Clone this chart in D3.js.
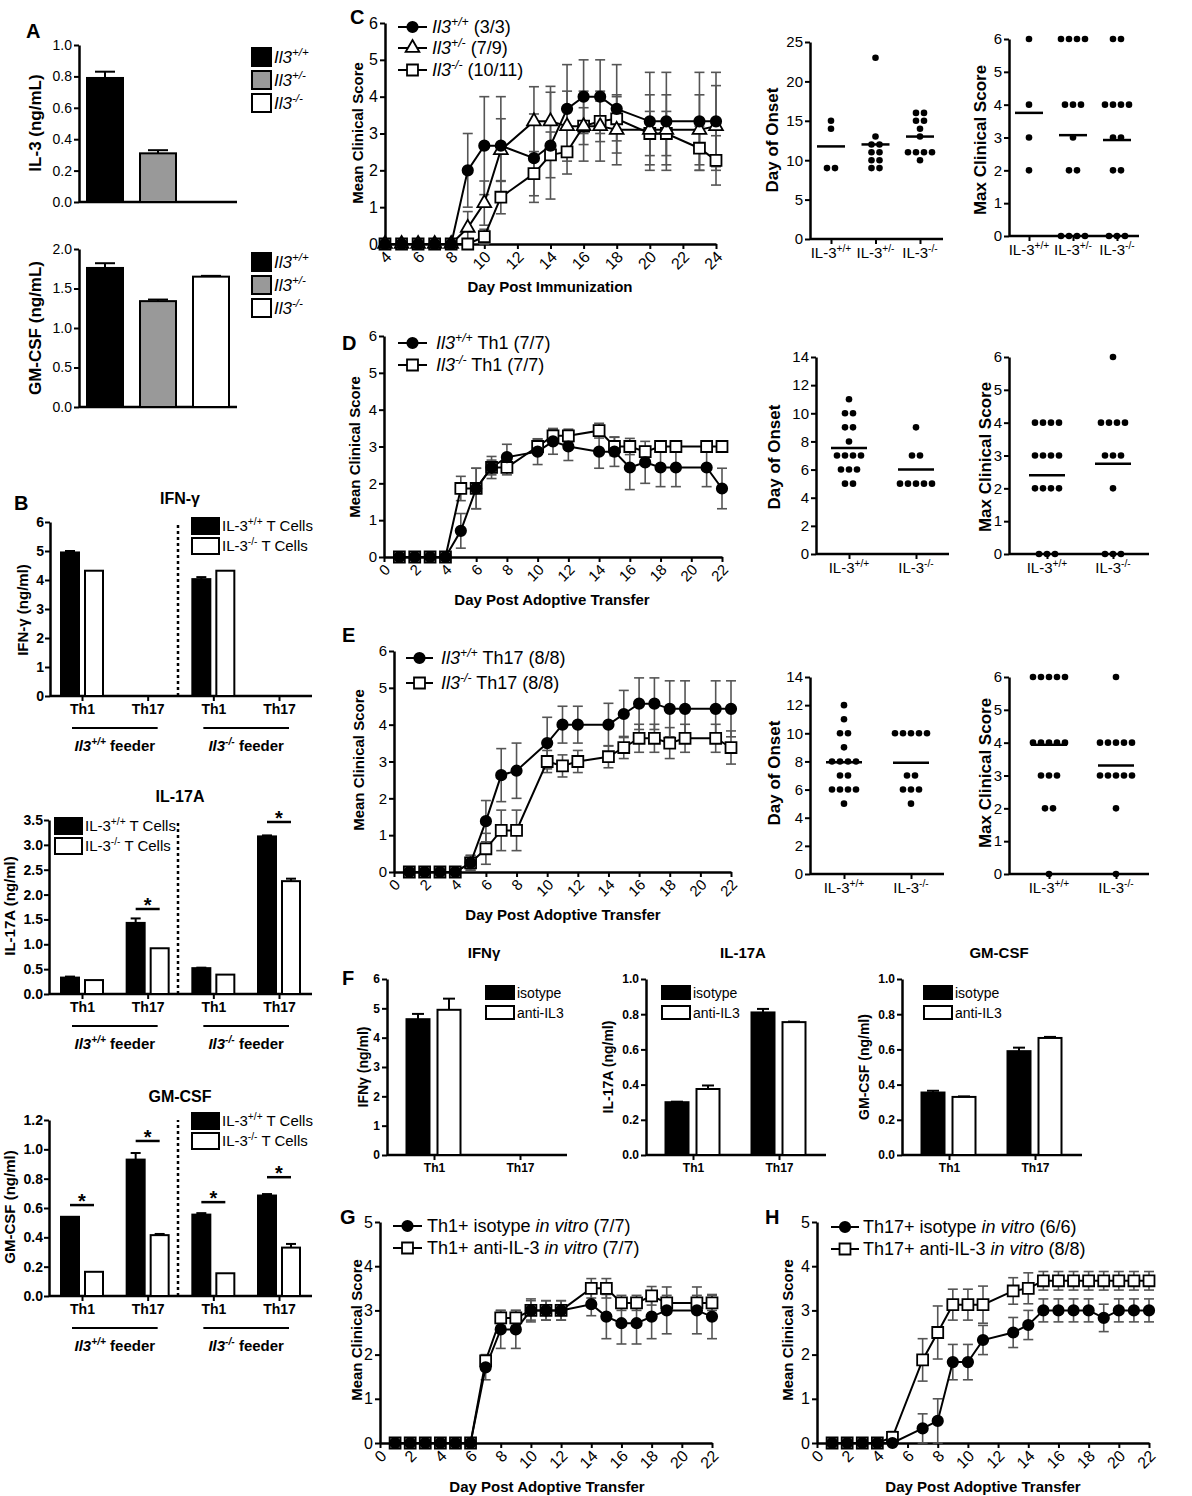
<!DOCTYPE html>
<html>
<head>
<meta charset="utf-8">
<script src="https://cdn.jsdelivr.net/npm/d3@7"></script>
<style>body{margin:0;background:#fff}</style>
</head>
<body>
<svg id="fig" width="1192" height="1496"></svg>
<script>
const FONT = "Liberation Sans, Arial, Helvetica, sans-serif";

// ---------- Panel A ----------
const genotypesA = ["+/+", "+/-", "-/-"];
const il3Mean = [0.79, 0.31, 0];
const il3Err = [0.04, 0.02, 0];
const gmA_Mean = [1.76, 1.34, 1.65];
const gmA_Err = [0.06, 0.02, 0.01];
const ticksA1 = [0, 0.2, 0.4, 0.6, 0.8, 1.0];
const ticksA2 = [0, 0.5, 1.0, 1.5, 2.0];

// ---------- Panel B ----------
const groupsB = ["Th1", "Th17", "Th1", "Th17"];
const ifnB_WT = [4.95, 0, 4.03, 0];
const ifnB_WTErr = [0.05, 0, 0.07, 0];
const ifnB_KO = [4.32, 0, 4.32, 0];
const ifnB_KOErr = [0, 0, 0, 0];
const il17B_WT = [0.33, 1.43, 0.52, 3.17];
const il17B_WTErr = [0.02, 0.09, 0.01, 0.02];
const il17B_KO = [0.28, 0.92, 0.39, 2.27];
const il17B_KOErr = [0, 0, 0, 0.05];
const il17B_Sig = [null, 1.71, null, 3.46];
const gmB_WT = [0.54, 0.93, 0.555, 0.685];
const gmB_WTErr = [0, 0.045, 0.01, 0.01];
const gmB_KO = [0.165, 0.415, 0.155, 0.33];
const gmB_KOErr = [0, 0.008, 0, 0.025];
const gmB_Sig = [0.62, 1.057, 0.64, 0.81];
const ticksIFN = [0, 1, 2, 3, 4, 5, 6];
const ticksIL17B = [0, 0.5, 1.0, 1.5, 2.0, 2.5, 3.0, 3.5];
const ticksGMB = [0, 0.2, 0.4, 0.6, 0.8, 1.0, 1.2];

// ---------- Panel C ----------
const daysC = [4, 5, 6, 7, 8, 9, 10, 11, 13, 14, 15, 16, 17, 18, 20, 21, 23, 24];
const cWT = [0, 0, 0, 0, 0, 2.0, 2.67, 2.67, 2.33, 2.67, 3.67, 4.0, 4.0, 3.67, 3.33, 3.33, 3.33, 3.33];
const cWTErr = [0, 0, 0, 0, 0, 1.0, 1.33, 1.33, 1.2, 1.45, 1.2, 1.0, 1.0, 1.2, 1.33, 1.33, 1.33, 1.33];
const cHet = [0, 0, 0, 0, 0, 0.44, 1.11, 2.55, 3.33, 3.33, 3.2, 3.2, 3.2, 3.1, 3.1, 3.1, 3.1, 3.2];
const cHetErr = [0, 0, 0, 0, 0, 0.44, 0.6, 0.85, 0.94, 0.95, 0.95, 0.95, 0.95, 0.95, 0.95, 0.95, 0.95, 1.1];
const cKO = [0, 0, 0, 0, 0, 0, 0.2, 1.27, 1.91, 2.42, 2.5, 3.2, 3.33, 3.4, 3.0, 3.0, 2.6, 2.27];
const cKOErr = [0, 0, 0, 0, 0, 0, 0.2, 0.45, 0.6, 0.62, 0.6, 0.5, 0.55, 0.6, 0.6, 0.6, 0.6, 0.67];
const onsetC_WT = [15, 14, 9, 9];
const onsetC_Het = [23, 13, 12, 12, 11, 11, 10, 10, 9, 9];
const onsetC_KO = [16, 16, 15, 15, 14, 13, 11, 11, 11, 11, 10];
const maxC_WT = [6, 4, 3, 2];
const maxC_Het = [6, 6, 6, 6, 4, 4, 4, 3, 2, 2, 0, 0, 0, 0];
const maxC_KO = [6, 6, 4, 4, 4, 4, 3, 3, 2, 2, 0, 0, 0];

// ---------- Panel D ----------
const daysDE = [1, 2, 3, 4, 5, 6, 7, 8, 10, 11, 12, 14, 15, 16, 17, 18, 19, 21, 22];
const dWT = [0, 0, 0, 0, 0.71, 1.86, 2.43, 2.71, 2.86, 3.14, 3.0, 2.86, 2.86, 2.43, 2.57, 2.43, 2.43, 2.43, 1.86];
const dWTErr = [0, 0, 0, 0, 0.47, 0.55, 0.3, 0.35, 0.35, 0.35, 0.38, 0.45, 0.4, 0.6, 0.57, 0.52, 0.52, 0.52, 0.55];
const dKO = [0, 0, 0, 0, 1.86, 1.86, 2.43, 2.43, 3.0, 3.29, 3.29, 3.43, 3.0, 3.0, 2.86, 3.0, 3.0, 3.0, 3.0];
const dKOErr = [0, 0, 0, 0, 0.33, 0.55, 0.2, 0.2, 0.2, 0.18, 0.18, 0.2, 0.25, 0.22, 0.14, 0, 0, 0, 0];
const onsetD_WT = [11, 10, 10, 9, 9, 8, 7, 7, 7, 7, 6, 6, 6, 5, 5];
const onsetD_KO = [9, 7, 7, 5, 5, 5, 5, 5];
const maxD_WT = [4, 4, 4, 4, 3, 3, 3, 3, 2, 2, 2, 2, 0, 0, 0];
const maxD_KO = [6, 4, 4, 4, 4, 3, 3, 3, 2, 0, 0, 0];

// ---------- Panel E ----------
const eWT = [0, 0, 0, 0, 0.25, 1.38, 2.63, 2.75, 3.5, 4.0, 4.0, 4.0, 4.29, 4.57, 4.57, 4.43, 4.43, 4.43, 4.43];
const eWTErr = [0, 0, 0, 0, 0.2, 0.56, 0.72, 0.75, 0.7, 0.5, 0.5, 0.58, 0.64, 0.7, 0.7, 0.76, 0.76, 0.76, 0.76];
const eKO = [0, 0, 0, 0, 0.25, 0.63, 1.13, 1.13, 3.0, 2.88, 3.0, 3.13, 3.38, 3.63, 3.63, 3.5, 3.63, 3.63, 3.38];
const eKOErr = [0, 0, 0, 0, 0.2, 0.42, 0.55, 0.55, 0.3, 0.3, 0.3, 0.3, 0.3, 0.38, 0.38, 0.42, 0.38, 0.38, 0.45];
const onsetE_WT = [12, 11, 10, 10, 9, 8, 8, 8, 8, 7, 7, 6, 6, 6, 6, 5];
const onsetE_KO = [10, 10, 10, 10, 10, 7, 7, 6, 6, 6, 5];
const maxE_WT = [6, 6, 6, 6, 6, 4, 4, 4, 4, 4, 3, 3, 3, 2, 2, 0];
const maxE_KO = [6, 4, 4, 4, 4, 4, 3, 3, 3, 3, 3, 2, 0];

// ---------- Panel F ----------
const groupsF = ["Th1", "Th17"];
const ifnF_Iso = [4.63, 0];
const ifnF_IsoErr = [0.18, 0];
const ifnF_Anti = [4.95, 0];
const ifnF_AntiErr = [0.38, 0];
const il17F_Iso = [0.30, 0.81];
const il17F_IsoErr = [0.003, 0.02];
const il17F_Anti = [0.375, 0.755];
const il17F_AntiErr = [0.02, 0.003];
const gmF_Iso = [0.355, 0.59];
const gmF_IsoErr = [0.01, 0.02];
const gmF_Anti = [0.33, 0.665];
const gmF_AntiErr = [0.003, 0.006];
const ticksF1 = [0, 1, 2, 3, 4, 5, 6];
const ticksF2 = [0, 0.2, 0.4, 0.6, 0.8, 1.0];

// ---------- Panel G / H ----------
const daysG = [1, 2, 3, 4, 5, 6, 7, 8, 9, 10, 11, 12, 14, 15, 16, 17, 18, 19, 21, 22];
const gIso = [0, 0, 0, 0, 0, 0, 1.71, 2.57, 2.57, 3.0, 3.0, 3.0, 3.14, 2.86, 2.71, 2.71, 2.86, 3.0, 3.0, 2.86];
const gIsoErr = [0, 0, 0, 0, 0, 0, 0.28, 0.43, 0.43, 0.22, 0.22, 0.22, 0.26, 0.5, 0.47, 0.47, 0.5, 0.53, 0.53, 0.5];
const gAnti = [0, 0, 0, 0, 0, 0, 1.86, 2.83, 2.83, 3.0, 3.0, 3.0, 3.5, 3.5, 3.17, 3.17, 3.33, 3.17, 3.17, 3.17];
const gAntiErr = [0, 0, 0, 0, 0, 0, 0.14, 0.17, 0.17, 0.26, 0.22, 0.22, 0.22, 0.22, 0.17, 0.17, 0.21, 0.17, 0.17, 0.17];
const daysH = [1, 2, 3, 4, 5, 7, 8, 9, 10, 11, 13, 14, 15, 16, 17, 18, 19, 20, 21, 22];
const hIso = [0, 0, 0, 0, 0, 0.33, 0.5, 1.83, 1.83, 2.33, 2.5, 2.67, 3.0, 3.0, 3.0, 3.0, 2.83, 3.0, 3.0, 3.0];
const hIsoErr = [0, 0, 0, 0, 0, 0.33, 0.5, 0.4, 0.4, 0.33, 0.34, 0.33, 0.26, 0.26, 0.26, 0.26, 0.31, 0.26, 0.26, 0.26];
const hAnti = [0, 0, 0, 0, 0.13, 1.88, 2.5, 3.13, 3.13, 3.13, 3.44, 3.5, 3.67, 3.67, 3.67, 3.67, 3.67, 3.67, 3.67, 3.67];
const hAntiErr = [0, 0, 0, 0, 0.13, 0.48, 0.6, 0.35, 0.35, 0.42, 0.3, 0.35, 0.21, 0.21, 0.21, 0.21, 0.21, 0.21, 0.21, 0.21];

// legend / label texts
const legendA = [
  [{t: "Il3", i: 1}, {t: "+/+", i: 1, s: 1}],
  [{t: "Il3", i: 1}, {t: "+/-", i: 1, s: 1}],
  [{t: "Il3", i: 1}, {t: "-/-", i: 1, s: 1}]
];
const legendB = [
  [{t: "IL-3"}, {t: "+/+", s: 1}, {t: " T Cells"}],
  [{t: "IL-3"}, {t: "-/-", s: 1}, {t: " T Cells"}]
];
const feederB = [
  [{t: "Il3", i: 1}, {t: "+/+", i: 1, s: 1}, {t: " feeder"}],
  [{t: "Il3", i: 1}, {t: "-/-", i: 1, s: 1}, {t: " feeder"}]
];
const legendC = [
  [{t: "Il3", i: 1}, {t: "+/+", i: 1, s: 1}, {t: " (3/3)"}],
  [{t: "Il3", i: 1}, {t: "+/-", i: 1, s: 1}, {t: " (7/9)"}],
  [{t: "Il3", i: 1}, {t: "-/-", i: 1, s: 1}, {t: " (10/11)"}]
];
const legendD = [
  [{t: "Il3", i: 1}, {t: "+/+", i: 1, s: 1}, {t: "  Th1 (7/7)"}],
  [{t: "Il3", i: 1}, {t: "-/-", i: 1, s: 1}, {t: " Th1 (7/7)"}]
];
const legendE = [
  [{t: "Il3", i: 1}, {t: "+/+", i: 1, s: 1}, {t: " Th17 (8/8)"}],
  [{t: "Il3", i: 1}, {t: "-/-", i: 1, s: 1}, {t: " Th17 (8/8)"}]
];
const legendF = [[{t: "isotype"}], [{t: "anti-IL3"}]];
const legendG = [
  [{t: "Th1+ isotype "}, {t: "in vitro", i: 1}, {t: " (7/7)"}],
  [{t: "Th1+ anti-IL-3 "}, {t: "in vitro", i: 1}, {t: " (7/7)"}]
];
const legendH = [
  [{t: "Th17+ isotype "}, {t: "in vitro", i: 1}, {t: " (6/6)"}],
  [{t: "Th17+ anti-IL-3 "}, {t: "in vitro", i: 1}, {t: " (8/8)"}]
];

const svg = d3.select("#fig");
svg.append("rect").attr("width", 1192).attr("height", 1496).attr("fill", "#fff");

// ---------- helpers ----------
function rich(x, y, segs, size, opt = {}) {
  const t = svg.append("text").attr("x", x).attr("y", y)
    .attr("font-family", FONT).attr("font-size", size)
    .attr("text-anchor", opt.anchor || "start")
    .attr("font-weight", opt.bold ? "bold" : "normal");
  let shift = 0;
  segs.forEach(s => {
    const sp = t.append("tspan").text(s.t);
    if (s.i) sp.attr("font-style", "italic");
    const target = s.s ? -size * 0.42 : 0;
    if (target !== shift) { sp.attr("dy", target - shift); shift = target; }
    if (s.s) sp.attr("font-size", size * 0.68);
  });
  return t;
}

function label(x, y, txt, size, opt = {}) {
  return svg.append("text").attr("x", x).attr("y", y)
    .attr("font-family", FONT).attr("font-size", size)
    .attr("font-weight", opt.normal ? "normal" : "bold")
    .attr("text-anchor", opt.anchor || "middle").text(txt);
}

function vLabel(x, y, txt, size) {
  svg.append("text").attr("transform", `translate(${x},${y}) rotate(-90)`)
    .attr("text-anchor", "middle").attr("font-family", FONT)
    .attr("font-weight", "bold").attr("font-size", size).text(txt);
}

function styleAxis(g, fs, bold) {
  g.attr("font-family", FONT).attr("font-size", fs).attr("font-weight", bold ? "bold" : "normal");
  g.select(".domain").attr("stroke", "#000").attr("stroke-width", 2.5);
  g.selectAll(".tick line").attr("stroke", "#000").attr("stroke-width", 2);
  g.selectAll(".tick text").attr("fill", "#000");
}

function leftAxis(y, x0, ticks, fmt, fs, bold, pad = 2) {
  const g = svg.append("g").attr("transform", `translate(${x0},0)`)
    .call(d3.axisLeft(y).tickValues(ticks).tickFormat(fmt).tickSize(5).tickSizeOuter(0).tickPadding(pad));
  styleAxis(g, fs, bold);
  return g;
}

const symbols = {circle: d3.symbolCircle, square: d3.symbolSquare, triangle: d3.symbolTriangle};
const symSize = {circle: 85, square: 120, triangle: 82};

function marker(type, cx, cy) {
  svg.append("path")
    .attr("d", d3.symbol().type(symbols[type]).size(symSize[type])())
    .attr("transform", `translate(${cx},${cy})`)
    .attr("fill", type === "circle" ? "#000" : "#fff")
    .attr("stroke", "#000").attr("stroke-width", 1.8);
}

function lineChart(cfg) {
  const x = d3.scaleLinear().domain(cfg.xDom).range(cfg.xRange);
  const y = d3.scaleLinear().domain(cfg.yDom).range(cfg.yRange);
  leftAxis(y, cfg.xRange[0], d3.range(cfg.yDom[0], cfg.yDom[1] + 1), d3.format("d"), cfg.fs, false);
  const gx = svg.append("g").attr("transform", `translate(0,${cfg.yRange[0]})`)
    .call(d3.axisBottom(x).tickValues(d3.range(cfg.xDom[0], cfg.xDom[1] + 1, 2)).tickSize(5).tickSizeOuter(0));
  styleAxis(gx, cfg.fs, false);
  gx.selectAll(".tick text").attr("y", 0).attr("dy", "0.35em")
    .attr("transform", "translate(3,10) rotate(-45)").attr("text-anchor", "end");
  label(cfg.xTitle[0], cfg.xTitle[1], cfg.xTitle[2], 15);
  vLabel(cfg.yTitle[0], cfg.yTitle[1], "Mean Clinical Score", 15);

  // error bars
  cfg.series.forEach(s => {
    cfg.days.forEach((d, i) => {
      const e = s.errs[i];
      if (!(e > 0)) return;
      const v = s.vals[i], cx = x(d);
      const g = svg.append("g").attr("stroke", "#555").attr("stroke-width", 1.6);
      g.append("line").attr("x1", cx).attr("x2", cx).attr("y1", y(v - e)).attr("y2", y(v + e));
      [v - e, v + e].forEach(c => g.append("line").attr("x1", cx - 5).attr("x2", cx + 5).attr("y1", y(c)).attr("y2", y(c)));
    });
  });
  // lines
  const line = d3.line().x(p => x(p[0])).y(p => y(p[1]));
  cfg.series.forEach(s => {
    svg.append("path").attr("d", line(cfg.days.map((d, i) => [d, s.vals[i]])))
      .attr("fill", "none").attr("stroke", "#000").attr("stroke-width", 2);
  });
  // markers
  cfg.series.forEach(s => cfg.days.forEach((d, i) => marker(s.type, x(d), y(s.vals[i]))));
  // legend
  cfg.series.forEach((s, k) => {
    const ly = cfg.legend.y[k];
    svg.append("line").attr("x1", cfg.legend.l0).attr("x2", cfg.legend.l1).attr("y1", ly).attr("y2", ly)
      .attr("stroke", "#000").attr("stroke-width", 2);
    marker(s.type, (cfg.legend.l0 + cfg.legend.l1) / 2, ly);
    rich(cfg.legend.tx, ly + cfg.legend.fs * 0.36, s.legend, cfg.legend.fs);
  });
}

function dotPlot(cfg) {
  const y = d3.scaleLinear().domain(cfg.yDom).range(cfg.yRange);
  const x = d3.scalePoint().domain(d3.range(cfg.groups.length)).range(cfg.catRange);
  leftAxis(y, cfg.x0, cfg.yTicks, d3.format("d"), 15, false);
  const gx = svg.append("g").attr("transform", `translate(0,${cfg.yRange[0]})`)
    .call(d3.axisBottom(x).tickSize(5).tickSizeOuter(0).tickFormat(() => ""));
  styleAxis(gx, 15, false);
  gx.select(".domain").attr("d", `M${cfg.x0},0H${cfg.x1}`);
  cfg.cats.forEach((c, i) => rich(x(i), cfg.yRange[0] + 19, [{t: "IL-3"}, {t: c, s: 1}], 15, {anchor: "middle"}));
  vLabel(cfg.yTitle[0], cfg.yTitle[1], cfg.yTitle[2], 17);
  cfg.groups.forEach((vals, i) => {
    d3.group(vals, v => v).forEach((arr, v) => {
      const k = arr.length;
      arr.forEach((_, j) => svg.append("circle")
        .attr("cx", x(i) + (j - (k - 1) / 2) * cfg.sp).attr("cy", y(v)).attr("r", 3.3).attr("fill", "#000"));
    });
    const m = d3.mean(vals);
    svg.append("line").attr("x1", x(i) - cfg.mw).attr("x2", x(i) + cfg.mw).attr("y1", y(m)).attr("y2", y(m))
      .attr("stroke", "#000").attr("stroke-width", 2.5);
  });
}

function barChart(cfg) {
  const y = d3.scaleLinear().domain(cfg.yDom).range(cfg.yRange);
  const x = d3.scalePoint().domain(d3.range(cfg.n)).range(cfg.xRange);
  leftAxis(y, cfg.x0, cfg.yTicks, d3.format(cfg.fmt), cfg.fs, cfg.bold, cfg.pad || 2);
  const gx = svg.append("g").attr("transform", `translate(0,${cfg.yRange[0]})`)
    .call(d3.axisBottom(x).tickSize(5).tickSizeOuter(0).tickPadding(3)
      .tickFormat(i => cfg.xLabels ? cfg.xLabels[i] : ""));
  styleAxis(gx, cfg.fs, true);
  gx.select(".domain").attr("d", `M${cfg.x0},0H${cfg.x1}`);
  if (!cfg.xLabels) gx.selectAll(".tick").remove();
  cfg.series.forEach(s => {
    s.vals.forEach((v, i) => {
      if (!v) return;
      const cx = x(i) + s.dx;
      svg.append("rect").attr("x", cx - s.w / 2).attr("y", y(v)).attr("width", s.w)
        .attr("height", y(0) - y(v)).attr("fill", s.fill).attr("stroke", "#000").attr("stroke-width", 2);
      const e = s.errs[i];
      if (e > 0) {
        svg.append("line").attr("x1", cx).attr("x2", cx).attr("y1", y(v)).attr("y2", y(v + e))
          .attr("stroke", "#000").attr("stroke-width", 2);
        svg.append("line").attr("x1", cx - cfg.cap).attr("x2", cx + cfg.cap).attr("y1", y(v + e)).attr("y2", y(v + e))
          .attr("stroke", "#000").attr("stroke-width", 2);
      }
    });
  });
  return {x, y};
}

function boxLegend(x, ys, w, h, fills, rows, fs) {
  ys.forEach((yy, k) => {
    svg.append("rect").attr("x", x).attr("y", yy).attr("width", w).attr("height", h)
      .attr("fill", fills[k]).attr("stroke", "#000").attr("stroke-width", 2);
    rich(x + w + 3, yy + h / 2 + fs * 0.36, rows[k], fs);
  });
}

function panelLetter(x, y, t) {
  label(x, y, t, 20, {anchor: "start"});
}

// ================= Panel A =================
panelLetter(26, 38, "A");
const fillsA = ["#000", "#999", "#fff"];
[[il3Mean, il3Err, [0, 1], [202, 45], ticksA1, "IL-3 (ng/mL)", 123, 48],
 [gmA_Mean, gmA_Err, [0, 2], [407, 249], ticksA2, "GM-CSF (ng/mL)", 328, 253]].forEach(([vals, errs, dom, rng, ticks, title, ly, legY]) => {
  const y = d3.scaleLinear().domain(dom).range(rng);
  const x = d3.scalePoint().domain(genotypesA).range([105, 211]);
  leftAxis(y, 79, ticks, d3.format(".1f"), 14, false);
  const gx = svg.append("g").attr("transform", `translate(0,${rng[0]})`).call(d3.axisBottom(x).tickSize(0).tickSizeOuter(0));
  styleAxis(gx, 14, false);
  gx.selectAll(".tick").remove();
  gx.select(".domain").attr("d", "M79,0H237");
  genotypesA.forEach((gt, i) => {
    const v = vals[i];
    if (!v) return;
    svg.append("rect").attr("x", x(gt) - 18).attr("y", y(v)).attr("width", 36).attr("height", y(0) - y(v))
      .attr("fill", fillsA[i]).attr("stroke", "#000").attr("stroke-width", 2);
    const e = errs[i];
    svg.append("line").attr("x1", x(gt)).attr("x2", x(gt)).attr("y1", y(v)).attr("y2", y(v + e)).attr("stroke", "#000").attr("stroke-width", 2);
    svg.append("line").attr("x1", x(gt) - 10).attr("x2", x(gt) + 10).attr("y1", y(v + e)).attr("y2", y(v + e)).attr("stroke", "#000").attr("stroke-width", 2);
  });
  vLabel(41, ly, title, 17);
  boxLegend(252, [legY, legY + 23, legY + 46], 19, 18, fillsA, legendA, 17);
});

// ================= Panel B =================
panelLetter(14, 510, "B");
const bX = [82, 279];
function bPanel(cfg) {
  const {x, y} = barChart({
    n: 4, x0: cfg.x0, x1: 312, xRange: bX, yDom: cfg.yDom, yRange: cfg.yRange, yTicks: cfg.ticks,
    fmt: cfg.fmt, fs: 14, bold: true, xLabels: groupsB, cap: 5, pad: 1,
    series: [
      {vals: cfg.wt, errs: cfg.wtErr, dx: -12, w: 18, fill: "#000"},
      {vals: cfg.ko, errs: cfg.koErr, dx: 12, w: 18, fill: "#fff"}
    ]
  });
  const y0 = cfg.yRange[0];
  svg.append("line").attr("x1", 178).attr("x2", 178).attr("y1", y0).attr("y2", cfg.yRange[1])
    .attr("stroke", "#000").attr("stroke-width", 2.5).attr("stroke-dasharray", "3,3");
  [[0, 1], [2, 3]].forEach(([a, b], k) => {
    svg.append("line").attr("x1", x(a) - 10).attr("x2", x(b) + 10).attr("y1", y0 + 32).attr("y2", y0 + 32)
      .attr("stroke", "#000").attr("stroke-width", 2);
    rich((x(a) + x(b)) / 2, y0 + 55, feederB[k], 15, {anchor: "middle", bold: true});
  });
  if (cfg.sig) cfg.sig.forEach((s, i) => {
    if (s == null) return;
    svg.append("line").attr("x1", x(i) - 12).attr("x2", x(i) + 12).attr("y1", y(s)).attr("y2", y(s))
      .attr("stroke", "#000").attr("stroke-width", 2.5);
    label(x(i), y(s) + 3, "*", 20);
  });
  label(180, cfg.yRange[1] - 18, cfg.title, 16);
  vLabel(cfg.yl[0], cfg.yl[1], cfg.ytitle, 15);
  boxLegend(cfg.leg[0], [cfg.leg[1], cfg.leg[1] + 20], 27, 16, ["#000", "#fff"], legendB, 15);
}
bPanel({x0: 50, yDom: [0, 6], yRange: [696, 522], ticks: ticksIFN, fmt: "d", wt: ifnB_WT, wtErr: ifnB_WTErr,
  ko: ifnB_KO, koErr: ifnB_KOErr, title: "IFN-γ", ytitle: "IFN-γ (ng/ml)", yl: [28, 610], leg: [192, 518]});
bPanel({x0: 49, yDom: [0, 3.5], yRange: [994, 820], ticks: ticksIL17B, fmt: ".1f", wt: il17B_WT, wtErr: il17B_WTErr,
  ko: il17B_KO, koErr: il17B_KOErr, sig: il17B_Sig, title: "IL-17A", ytitle: "IL-17A (ng/ml)", yl: [15, 906], leg: [55, 818]});
bPanel({x0: 49, yDom: [0, 1.2], yRange: [1296, 1120], ticks: ticksGMB, fmt: ".1f", wt: gmB_WT, wtErr: gmB_WTErr,
  ko: gmB_KO, koErr: gmB_KOErr, sig: gmB_Sig, title: "GM-CSF", ytitle: "GM-CSF (ng/ml)", yl: [15, 1207], leg: [192, 1113]});

// ================= Panel C =================
panelLetter(350, 24, "C");
lineChart({
  xDom: [4, 24], xRange: [385, 716], yDom: [0, 6], yRange: [244, 23], days: daysC, fs: 16,
  xTitle: [550, 292, "Day Post Immunization"], yTitle: [363, 133],
  series: [
    {vals: cKO, errs: cKOErr, type: "square", legend: legendC[2]},
    {vals: cHet, errs: cHetErr, type: "triangle", legend: legendC[1]},
    {vals: cWT, errs: cWTErr, type: "circle", legend: legendC[0]}
  ],
  legend: {y: [70, 48, 27], l0: 398, l1: 427, tx: 432, fs: 18}
});
dotPlot({x0: 810, x1: 943, yDom: [0, 25], yRange: [239, 42], yTicks: [0, 5, 10, 15, 20, 25], catRange: [831, 920],
  cats: ["+/+", "+/-", "-/-"], groups: [onsetC_WT, onsetC_Het, onsetC_KO], sp: 8, mw: 14, yTitle: [778, 140, "Day of Onset"]});
dotPlot({x0: 1009, x1: 1139, yDom: [0, 6], yRange: [236, 39], yTicks: [0, 1, 2, 3, 4, 5, 6], catRange: [1029, 1117],
  cats: ["+/+", "+/-", "-/-"], groups: [maxC_WT, maxC_Het, maxC_KO], sp: 8, mw: 14, yTitle: [986, 140, "Max Clinical Score"]});

// ================= Panel D =================
panelLetter(342, 350, "D");
lineChart({
  xDom: [0, 22], xRange: [384, 722], yDom: [0, 6], yRange: [557, 336], days: daysDE, fs: 15,
  xTitle: [552, 605, "Day Post Adoptive Transfer"], yTitle: [360, 447],
  series: [
    {vals: dKO, errs: dKOErr, type: "square", legend: legendD[1]},
    {vals: dWT, errs: dWTErr, type: "circle", legend: legendD[0]}
  ],
  legend: {y: [365, 343], l0: 398, l1: 427, tx: 436, fs: 18}
});
dotPlot({x0: 816, x1: 949, yDom: [0, 14], yRange: [554, 357], yTicks: [0, 2, 4, 6, 8, 10, 12, 14], catRange: [849, 916],
  cats: ["+/+", "-/-"], groups: [onsetD_WT, onsetD_KO], sp: 8, mw: 18, yTitle: [780, 457, "Day of Onset"]});
dotPlot({x0: 1009, x1: 1149, yDom: [0, 6], yRange: [554, 357], yTicks: [0, 1, 2, 3, 4, 5, 6], catRange: [1047, 1113],
  cats: ["+/+", "-/-"], groups: [maxD_WT, maxD_KO], sp: 8, mw: 18, yTitle: [991, 457, "Max Clinical Score"]});

// ================= Panel E =================
panelLetter(342, 642, "E");
lineChart({
  xDom: [0, 22], xRange: [394, 731], yDom: [0, 6], yRange: [872, 651], days: daysDE, fs: 15,
  xTitle: [563, 920, "Day Post Adoptive Transfer"], yTitle: [364, 760],
  series: [
    {vals: eKO, errs: eKOErr, type: "square", legend: legendE[1]},
    {vals: eWT, errs: eWTErr, type: "circle", legend: legendE[0]}
  ],
  legend: {y: [683, 658], l0: 406, l1: 433, tx: 441, fs: 18}
});
dotPlot({x0: 810, x1: 944, yDom: [0, 14], yRange: [874, 677], yTicks: [0, 2, 4, 6, 8, 10, 12, 14], catRange: [844, 911],
  cats: ["+/+", "-/-"], groups: [onsetE_WT, onsetE_KO], sp: 8, mw: 18, yTitle: [780, 773, "Day of Onset"]});
dotPlot({x0: 1009, x1: 1149, yDom: [0, 6], yRange: [874, 677], yTicks: [0, 1, 2, 3, 4, 5, 6], catRange: [1049, 1116],
  cats: ["+/+", "-/-"], groups: [maxE_WT, maxE_KO], sp: 8, mw: 18, yTitle: [991, 773, "Max Clinical Score"]});

// ================= Panel F =================
panelLetter(342, 985, "F");
function fPanel(cfg) {
  barChart({
    n: 2, x0: cfg.x0, x1: cfg.x0 + 180, xRange: [cfg.x0 + 47, cfg.x0 + 133], yDom: cfg.yDom, yRange: [1155, 979],
    yTicks: cfg.ticks, fmt: cfg.fmt, fs: 12, bold: true, xLabels: groupsF, cap: 6,
    series: [
      {vals: cfg.iso, errs: cfg.isoErr, dx: -16, w: 23, fill: "#000"},
      {vals: cfg.anti, errs: cfg.antiErr, dx: 15, w: 23, fill: "#fff"}
    ]
  });
  label(cfg.x0 + 97, 958, cfg.title, 15);
  vLabel(cfg.x0 - cfg.yl, 1067, cfg.ytitle, 14);
  boxLegend(cfg.x0 + cfg.leg, [986, 1006], 28, 13, ["#000", "#fff"], legendF, 14);
}
fPanel({x0: 387, yDom: [0, 6], ticks: ticksF1, fmt: "d", iso: ifnF_Iso, isoErr: ifnF_IsoErr, anti: ifnF_Anti,
  antiErr: ifnF_AntiErr, title: "IFNγ", ytitle: "IFNγ (ng/ml)", yl: 19, leg: 99});
fPanel({x0: 646, yDom: [0, 1], ticks: ticksF2, fmt: ".1f", iso: il17F_Iso, isoErr: il17F_IsoErr, anti: il17F_Anti,
  antiErr: il17F_AntiErr, title: "IL-17A", ytitle: "IL-17A (ng/ml)", yl: 33, leg: 16});
fPanel({x0: 902, yDom: [0, 1], ticks: ticksF2, fmt: ".1f", iso: gmF_Iso, isoErr: gmF_IsoErr, anti: gmF_Anti,
  antiErr: gmF_AntiErr, title: "GM-CSF", ytitle: "GM-CSF (ng/ml)", yl: 33, leg: 22});

// ================= Panel G =================
panelLetter(340, 1224, "G");
lineChart({
  xDom: [0, 22], xRange: [380, 712], yDom: [0, 5], yRange: [1443, 1222], days: daysG, fs: 16,
  xTitle: [547, 1492, "Day Post Adoptive Transfer"], yTitle: [362, 1330],
  series: [
    {vals: gAnti, errs: gAntiErr, type: "square", legend: legendG[1]},
    {vals: gIso, errs: gIsoErr, type: "circle", legend: legendG[0]}
  ],
  legend: {y: [1248, 1226], l0: 393, l1: 422, tx: 427, fs: 18}
});

// ================= Panel H =================
panelLetter(765, 1224, "H");
lineChart({
  xDom: [0, 22], xRange: [817, 1149], yDom: [0, 5], yRange: [1443, 1222], days: daysH, fs: 16,
  xTitle: [983, 1492, "Day Post Adoptive Transfer"], yTitle: [793, 1330],
  series: [
    {vals: hAnti, errs: hAntiErr, type: "square", legend: legendH[1]},
    {vals: hIso, errs: hIsoErr, type: "circle", legend: legendH[0]}
  ],
  legend: {y: [1249, 1227], l0: 831, l1: 859, tx: 863, fs: 18}
});
</script>
</body>
</html>
